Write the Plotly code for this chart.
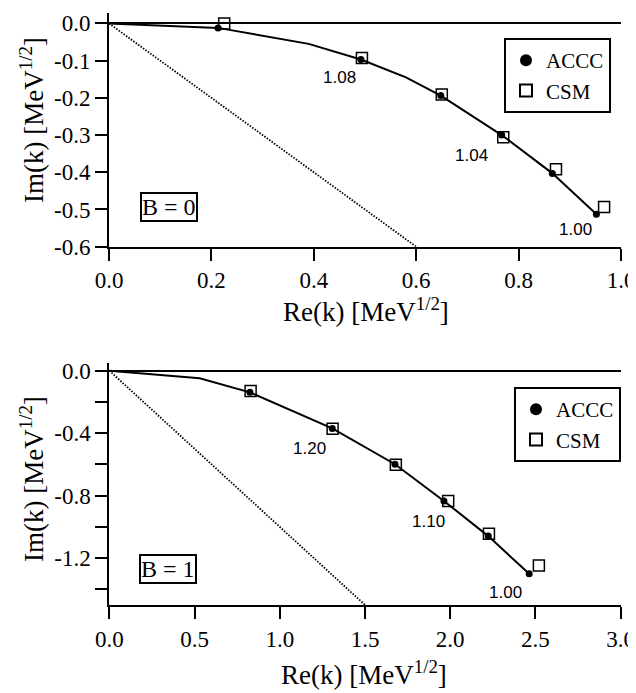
import plotly.graph_objects as go

# ---------------- data: B = 0 panel ----------------
accc0_re = [0.213, 0.492, 0.648, 0.767, 0.866, 0.952]
accc0_im = [-0.012, -0.097, -0.194, -0.300, -0.403, -0.513]
csm0_re = [0.225, 0.494, 0.650, 0.770, 0.873, 0.967]
csm0_im = [0.000, -0.093, -0.191, -0.306, -0.392, -0.493]
traj0_re = [0.0, 0.213, 0.390, 0.492, 0.580, 0.648, 0.767, 0.866, 0.952]
traj0_im = [0.0, -0.012, -0.055, -0.097, -0.145, -0.194, -0.300, -0.403, -0.513]
diag0_re = [0.0, 0.6]
diag0_im = [0.0, -0.6]
lab0_text = ["1.08", "1.04", "1.00"]
lab0_re = [0.450, 0.708, 0.912]
lab0_im = [-0.145, -0.354, -0.555]

# ---------------- data: B = 1 panel ----------------
accc1_re = [0.825, 1.308, 1.676, 1.963, 2.223, 2.463]
accc1_im = [-0.139, -0.370, -0.599, -0.834, -1.059, -1.300]
csm1_re = [0.829, 1.310, 1.681, 1.988, 2.227, 2.520]
csm1_im = [-0.130, -0.372, -0.603, -0.834, -1.044, -1.247]
traj1_re = [0.0, 0.53, 0.825, 1.308, 1.676, 1.963, 2.223, 2.463]
traj1_im = [0.0, -0.049, -0.139, -0.370, -0.599, -0.834, -1.059, -1.300]
diag1_re = [0.0, 1.5]
diag1_im = [0.0, -1.5]
lab1_text = ["1.20", "1.10", "1.00"]
lab1_re = [1.172, 1.872, 2.327]
lab1_im = [-0.498, -0.963, -1.418]

# ---------------- ticks ----------------
x0_ticks = [0.0, 0.2, 0.4, 0.6, 0.8, 1.0]
x0_text = ["0.0", "0.2", "0.4", "0.6", "0.8", "1.0"]
y0_ticks = [0.0, -0.1, -0.2, -0.3, -0.4, -0.5, -0.6]
y0_text = ["0.0", "-0.1", "-0.2", "-0.3", "-0.4", "-0.5", "-0.6"]
x1_ticks = [0.0, 0.5, 1.0, 1.5, 2.0, 2.5, 3.0]
x1_text = ["0.0", "0.5", "1.0", "1.5", "2.0", "2.5", "3.0"]
y1_ticks = [0.0, -0.2, -0.4, -0.6, -0.8, -1.0, -1.2, -1.4]
y1_text = ["0.0", "", "-0.4", "", "-0.8", "", "-1.2", ""]

XTITLE = "Re(k) [MeV<sup>1/2</sup>]"
YTITLE = "Im(k) [MeV<sup>1/2</sup>]"

SERIF = "Liberation Serif"
SANS = "Liberation Sans"

# page body has an 8 px margin, so the figure is 8 px smaller than the window
W, H = 628, 685

fig = go.Figure()


def add_panel(xa, ya, legend, tr_re, tr_im, dg_re, dg_im, a_re, a_im, c_re, c_im):
    fig.add_trace(go.Scatter(x=dg_re, y=dg_im, mode="lines", xaxis=xa, yaxis=ya,
                             line=dict(color="black", width=1.8, dash="1.5px,1.5px"),
                             showlegend=False, hoverinfo="skip"))
    fig.add_trace(go.Scatter(x=tr_re, y=tr_im, mode="lines", xaxis=xa, yaxis=ya,
                             line=dict(color="black", width=2),
                             showlegend=False, hoverinfo="skip"))
    fig.add_trace(go.Scatter(x=a_re, y=a_im, mode="markers", name="ACCC", xaxis=xa, yaxis=ya,
                             marker=dict(symbol="circle", size=7, color="black"),
                             legend=legend))
    fig.add_trace(go.Scatter(x=c_re, y=c_im, mode="markers", name="CSM", xaxis=xa, yaxis=ya,
                             marker=dict(symbol="square-open", size=11, color="black",
                                         line=dict(width=1.5, color="black")),
                             legend=legend))


add_panel("x", "y", "legend", traj0_re, traj0_im, diag0_re, diag0_im,
          accc0_re, accc0_im, csm0_re, csm0_im)
add_panel("x2", "y2", "legend2", traj1_re, traj1_im, diag1_re, diag1_im,
          accc1_re, accc1_im, csm1_re, csm1_im)

axis_common = dict(showline=True, linecolor="black", linewidth=2, ticks="outside",
                   ticklen=12, tickwidth=2, tickcolor="black", showgrid=False,
                   tickfont=dict(family=SERIF, size=23, color="black"),
                   automargin=False)

legend_common = dict(xanchor="right", yanchor="top", bordercolor="black", borderwidth=2,
                     bgcolor="white", font=dict(family=SERIF, size=21, color="black"),
                     itemsizing="constant", tracegroupgap=0)

fig.update_layout(
    width=W, height=H,
    margin=dict(l=0, r=0, t=0, b=0),
    paper_bgcolor="white", plot_bgcolor="white",
    xaxis=dict(domain=[101 / W, 613 / W], range=[0, 1.0], tickvals=x0_ticks, ticktext=x0_text,
               zeroline=False, anchor="y", **axis_common),
    yaxis=dict(domain=[1 - 238.7 / H, 1 - 5 / H], range=[-0.6, 0.028],
               tickvals=y0_ticks, ticktext=y0_text,
               zeroline=True, zerolinecolor="black", zerolinewidth=2,
               anchor="x", **axis_common),
    xaxis2=dict(domain=[101.3 / W, 612.7 / W], range=[0, 3.0], tickvals=x1_ticks, ticktext=x1_text,
                zeroline=False, anchor="y2", **axis_common),
    yaxis2=dict(domain=[1 - 597 / H, 1 - 355.3 / H], range=[-1.5, 0.047],
                tickvals=y1_ticks, ticktext=y1_text,
                zeroline=True, zerolinecolor="black", zerolinewidth=2,
                anchor="x2", **axis_common),
    legend=dict(x=603 / W, y=1 - 30 / H, **legend_common),
    legend2=dict(x=613 / W, y=1 - 379 / H, **legend_common),
    showlegend=True,
)

annotations = []
for t, xr, yr in zip(lab0_text, lab0_re, lab0_im):
    annotations.append(dict(x=xr, y=yr, xref="x", yref="y", text=t, showarrow=False,
                            font=dict(family=SANS, size=17, color="black")))
for t, xr, yr in zip(lab1_text, lab1_re, lab1_im):
    annotations.append(dict(x=xr, y=yr, xref="x2", yref="y2", text=t, showarrow=False,
                            font=dict(family=SANS, size=17, color="black")))
annotations.append(dict(x=0.117, y=-0.492, xref="x", yref="y", text="B = 0", showarrow=False,
                        font=dict(family=SERIF, size=24, color="black"),
                        bordercolor="black", borderwidth=2, borderpad=0, bgcolor="white"))
annotations.append(dict(x=0.345, y=-1.27, xref="x2", yref="y2", text="B = 1", showarrow=False,
                        font=dict(family=SERIF, size=24, color="black"),
                        bordercolor="black", borderwidth=2, borderpad=0, bgcolor="white"))

# axis titles
title_font = dict(family=SERIF, size=27, color="black")
annotations.append(dict(x=358 / W, y=1 - 302 / H, xref="paper", yref="paper", text=XTITLE,
                        showarrow=False, font=title_font, xanchor="center", yanchor="middle"))
annotations.append(dict(x=356 / W, y=1 - 665 / H, xref="paper", yref="paper", text=XTITLE,
                        showarrow=False, font=title_font, xanchor="center", yanchor="middle"))
annotations.append(dict(x=24 / W, y=1 - 112 / H, xref="paper", yref="paper", text=YTITLE,
                        showarrow=False, font=title_font, textangle=-90,
                        xanchor="center", yanchor="middle"))
annotations.append(dict(x=24 / W, y=1 - 471 / H, xref="paper", yref="paper", text=YTITLE,
                        showarrow=False, font=title_font, textangle=-90,
                        xanchor="center", yanchor="middle"))
fig.update_layout(annotations=annotations)

fig.write_html("out.html")
